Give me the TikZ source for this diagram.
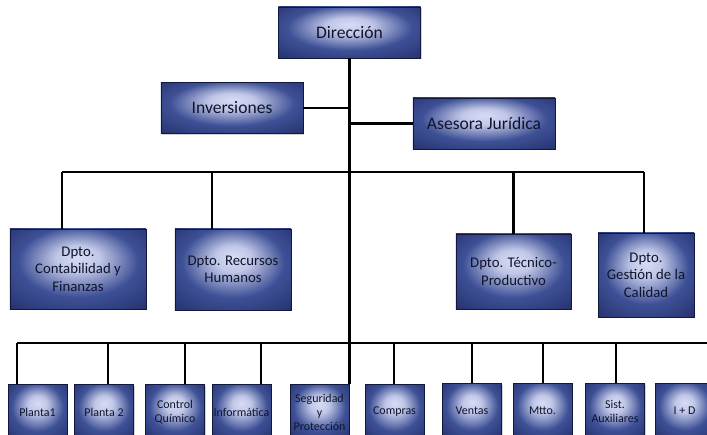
\documentclass[tikz,border=0pt]{standalone}
\usepackage{fontspec}
\setmainfont{Carlito}
\usepackage{tikz}
\usetikzlibrary{calc,positioning,shadows}
\definecolor{boxdark}{RGB}{24,34,88}
\definecolor{boxmid}{RGB}{62,80,150}
\definecolor{boxlight}{RGB}{215,220,245}
\definecolor{boxtext}{RGB}{16,20,44}
\pgfdeclareradialshading{orgbox}{\pgfpoint{0bp}{8bp}}{color(0bp)=(boxlight); color(8bp)=(boxlight!85!boxmid); color(22bp)=(boxmid); color(38bp)=(boxdark!70!boxmid); color(50bp)=(boxdark)}
\tikzstyle{link} = [line width=1.7pt, black]

\begin{document}
\begin{tikzpicture}[
			x=0.025cm, y=-0.025cm,
			unit/.style={
					rectangle,
					draw=boxdark!70!black,
					shading=orgbox,
					drop shadow={shadow xshift=0.8pt, shadow yshift=-0.8pt, opacity=0.35},
					text=boxtext,
					align=center,
					inner sep=1pt
				},
			top/.style={unit, minimum width=3.55cm, minimum height=1.28cm, font=\fontsize{12.5}{15}\selectfont},
			dept/.style={unit, font=\fontsize{10.5}{12.5}\selectfont},
			sub/.style={unit, minimum width=1.47cm, minimum height=1.375cm, font=\fontsize{8.5}{10}\selectfont}
		]
		\useasboundingbox (0,0) rectangle (707,434);
		\clip (0,0) rectangle (707,434);
		% direccion y staff
		\node[top] (dir) at (349.5,32.5) {Dirección};
		\node[top] (inv) at (232,108) {Inversiones};
		\node[top] (ase) at (484,123.5) {Asesora Jurídica};
		% departamentos
		\node[dept, minimum width=3.4cm, minimum height=2cm] (cont) at (78,269) {Dpto.\\Contabilidad y\\Finanzas};
		\node[dept, minimum width=2.9cm, minimum height=2.025cm] (rrhh) at (233,269.5) {Dpto. Recursos\\Humanos};
		\node[dept, minimum width=2.875cm, minimum height=1.875cm] (tec) at (513.5,271.5) {Dpto. Técnico-\\Productivo};
		\node[dept, minimum width=2.4cm, minimum height=2.1cm] (cal) at (646,275) {Dpto.\\Gestión de la\\Calidad};
		% areas
		\node[sub] (p1) at (37.5,412) {Planta1};
		\node[sub] (p2) at (104,412) {Planta 2};
		\node[sub] (cq) at (175,412) {Control\\Químico};
		\node[sub] (inf) at (241.5,412) {Informática};
		\node[sub] (seg) at (319.5,412) {Seguridad\\y\\Protección};
		\node[sub] (com) at (394.5,412) {Compras};
		\node[sub] (ven) at (472,411) {Ventas};
		\node[sub] (mtt) at (542.5,411) {Mtto.};
		\node[sub] (sis) at (615,411) {Sist.\\Auxiliares};
		\node[sub] (id) at (684.5,411) {I + D};
		% lineas
		\coordinate (tbarL) at (62,172);
		\coordinate (tbarR) at (644,172);
		\coordinate (tbarH) at (212,172);
		\coordinate (bbarL) at (17,343);
		\coordinate (bbarR) at (707,343);
		\draw[link] (dir.south) -- (dir.south |- seg.north);
		\draw[link] (inv.east) -- (inv.east -| dir.south);
		\draw[link] (ase.west) -- (ase.west -| dir.south);
		\draw[link] (tbarL) -- (tbarR);
		\draw[link] (tbarL) -- (tbarL |- cont.north);
		\draw[link] (tbarH) -- (tbarH |- rrhh.north);
		\draw[link] (tec.north |- tbarL) -- (tec.north);
		\draw[link] (tbarR) -- (tbarR |- cal.north);
		\draw[link] (bbarL) -- (bbarR);
		\foreach \n/\x in {p1/17, p2/108, cq/185, inf/261, com/394, ven/472, mtt/543, sis/616}{
			\coordinate (j\n) at (\x,343);
			\draw[link] (j\n) -- (j\n |- \n.north);
		}
	\end{tikzpicture}
\end{document}
